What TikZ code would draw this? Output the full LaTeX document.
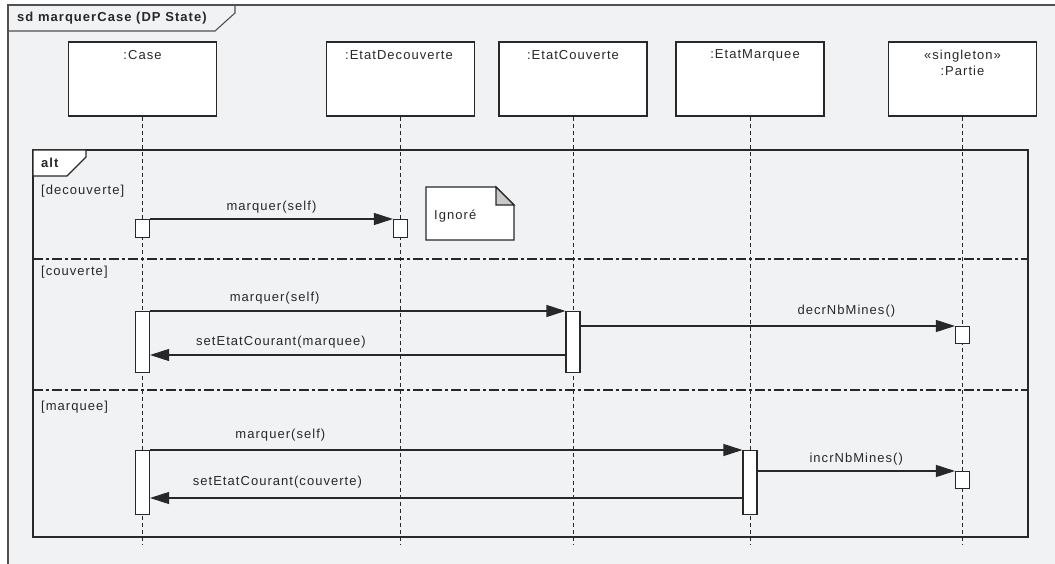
\documentclass[tikz,border=0pt]{standalone}
\usepackage{fontspec}
\setmainfont[LetterSpace=8]{Liberation Sans}
\usetikzlibrary{arrows.meta}
\definecolor{bg}{RGB}{241,242,244}
\definecolor{ln}{RGB}{40,40,40}
\definecolor{frm}{RGB}{80,80,80}
\definecolor{fold}{RGB}{200,200,200}
\begin{document}
\begin{tikzpicture}[x=1pt,y=-1pt,
  every node/.style={font=\fontsize{13}{15}\selectfont, text=ln},
  head/.style={draw=ln, fill=white, line width=1.1pt, minimum width=148pt, minimum height=74pt, inner sep=0pt},
  bar/.style={draw=ln, fill=white, line width=1.1pt, minimum width=14pt, inner sep=0pt},
  life/.style={draw=ln, line width=1pt, dash pattern=on 4pt off 3pt},
  sepline/.style={draw=ln, line width=1.1pt, dash pattern=on 10pt off 3pt on 3pt off 3pt},
  msg/.style={draw=ln, line width=1.1pt, -{Triangle[length=19pt,width=12pt]}},
  lbl/.style={inner sep=0pt}]
\useasboundingbox (0,0) rectangle (1055,564);
\clip (0,0) rectangle (1055,564);
\fill[white] (0,0) rectangle (1055,564);
% outer frame
\fill[bg] (8,5) rectangle (1070,580);
\draw[frm, line width=1.1pt] (1070,5) -- (8,5) -- (8,580);
\draw[frm, line width=1.1pt] (8,31) -- (215,31) -- (235,13) -- (235,5);
\node[lbl, anchor=west, font=\fontsize{13}{15}\selectfont\bfseries] (title) at (17,18) {sd marquerCase (DP State)};

% lifeline heads
\node[head] (case) at (142.5,79) {};
\node[head] (dec)  at (400.5,79) {};
\node[head] (couv) at (573,79) {};
\node[head] (marq) at (750,79) {};
\node[head] (part) at (962.5,79) {};
\node[lbl] (caseL) at (142.5,55) {:Case};
\node[lbl] (decL)  at (399,55) {:EtatDecouverte};
\node[lbl] (couvL) at (573,55) {:EtatCouverte};
\node[lbl] (marqL) at (755,55) {:EtatMarquee};
\node[lbl] (partL1) at (962.5,56) {«singleton»};
\node[lbl] (partL2) at (962.5,71) {:Partie};

% lifeline ends
\coordinate (caseE) at (142.5,545);
\coordinate (decE)  at (400.5,545);
\coordinate (couvE) at (573,545);
\coordinate (marqE) at (750,545);
\coordinate (partE) at (962.5,545);
\draw[life] (case.south) -- (caseE);
\draw[life] (dec.south) -- (decE);
\draw[life] (couv.south) -- (couvE);
\draw[life] (marq.south) -- (marqE);
\draw[life] (part.south) -- (partE);

% alt fragment
\draw[ln, line width=1.5pt] (33,150) rectangle (1028,537);
\filldraw[draw=ln, fill=white, line width=1.2pt] (33,150) -- (86,150) -- (86,157) -- (67,176) -- (33,176) -- cycle;
\node[lbl, anchor=west, font=\fontsize{13}{15}\selectfont\bfseries] (alt) at (41,163) {alt};
\draw[sepline] (33,259) -- (1028,259);
\draw[sepline] (33,390) -- (1028,390);
\node[lbl, anchor=west] (g1) at (41,191) {[decouverte]};
\node[lbl, anchor=west] (g2) at (41,272) {[couverte]};
\node[lbl, anchor=west] (g3) at (41,407) {[marquee]};

% section 1
\node[bar, minimum height=18pt, anchor=north] (caseS1) at (142.5,219) {};
\node[bar, minimum height=18pt, anchor=north] (decS1) at (400.5,219) {};
\draw[msg] (caseS1.north east) -- (decS1.north west) node[lbl, midway, above=5pt] (m1) {marquer(self)};
\filldraw[draw=ln, fill=white, line width=1.1pt] (426,187) -- (496,187) -- (514,205) -- (514,240) -- (426,240) -- cycle;
\filldraw[draw=ln, fill=fold, line width=1.1pt] (496,187) -- (496,205) -- (514,205) -- cycle;
\node[lbl, anchor=west] (note) at (434,216) {Ignoré};

% section 2
\node[bar, minimum height=61pt, anchor=north] (caseB2) at (142.5,311) {};
\node[bar, minimum height=61pt, anchor=north] (couvB2) at (573,311) {};
\node[bar, minimum height=17pt, anchor=north] (partS2) at (962.5,326) {};
\draw[msg] (caseB2.north east) -- (couvB2.north west) node[lbl, pos=0.3, above=6pt] (m2) {marquer(self)};
\draw[msg] (couvB2.east |- partS2.north west) -- (partS2.north west) node[lbl, pos=0.71, above=8pt] (m3) {decrNbMines()};
\coordinate (r2) at (573,355);
\draw[msg] (couvB2.west |- r2) -- (caseB2.east |- r2) node[lbl, pos=0.685, above=6pt] (m4) {setEtatCourant(marquee)};

% section 3
\node[bar, minimum height=64pt, anchor=north] (caseB3) at (142.5,450) {};
\node[bar, minimum height=64pt, anchor=north] (marqB3) at (750,450) {};
\node[bar, minimum height=17pt, anchor=north] (partS3) at (962.5,471) {};
\draw[msg] (caseB3.north east) -- (marqB3.north west) node[lbl, pos=0.22, above=8pt] (m5) {marquer(self)};
\draw[msg] (marqB3.east |- partS3.north west) -- (partS3.north west) node[lbl, midway, above=5pt] (m6) {incrNbMines()};
\coordinate (r3) at (750,498);
\draw[msg] (marqB3.west |- r3) -- (caseB3.east |- r3) node[lbl, pos=0.785, above=9pt] (m7) {setEtatCourant(couverte)};
\end{tikzpicture}
\end{document}
